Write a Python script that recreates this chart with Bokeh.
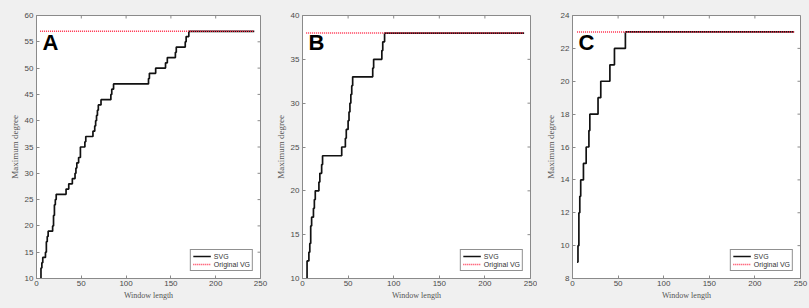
from bokeh.plotting import figure
from bokeh.layouts import row
from bokeh.models import Range1d, FixedTicker, Label
from bokeh.embed import file_html
from bokeh.resources import INLINE

# ---- data (step functions: value holds from x until next x) ----
A_x = [4, 5, 6, 7, 10, 11, 12, 13, 18, 19, 20, 21, 22, 33, 36, 40, 43, 44, 45, 47, 49, 54, 55,
       63, 65, 66, 67, 68, 69, 72, 83, 84, 86, 125, 126, 133, 144, 146, 155, 156, 166, 167, 170, 243]
A_y = [10, 12, 13, 14, 15, 17, 18, 19, 20, 22, 24, 25, 26, 27, 28, 29, 30, 31, 32, 33, 35, 36, 37,
       38, 39, 40, 41, 42, 43, 44, 45, 46, 47, 48, 49, 50, 51, 52, 53, 54, 55, 56, 57, 57]
A_orig = 57

B_x = [4, 5, 7, 8, 9, 10, 12, 13, 14, 18, 19, 21, 22, 43, 47, 48, 50, 51, 52, 53, 54, 55,
       77, 78, 87, 88, 90, 243]
B_y = [10, 12, 13, 14, 16, 17, 18, 19, 20, 21, 22, 23, 24, 25, 26, 27, 28, 29, 30, 31, 32, 33,
       34, 35, 36, 37, 38, 38]
B_orig = 38

C_x = [5, 6, 7, 8, 9, 12, 15, 18, 19, 28, 31, 41, 46, 58, 243]
C_y = [9, 10, 12, 13, 14, 15, 16, 17, 18, 19, 20, 21, 22, 23, 23]
C_orig = 23

x_ticks = [0, 50, 100, 150, 200, 250]
A_yticks = [10, 15, 20, 25, 30, 35, 40, 45, 50, 55, 60]
B_yticks = [10, 15, 20, 25, 30, 35, 40]
C_yticks = [8, 10, 12, 14, 16, 18, 20, 22, 24]

GRAY_BG = "#f0f0f0"
AX_COL = "#8a8a8a"
TXT_COL = "#4a4a4a"

FRAME_W = 228
FRAME_H = 263
TICK_PX = 3


def panel(xs, ys, orig, yticks, letter, width, left, right):
    x0, x1 = x_ticks[0], x_ticks[-1]
    y0, y1 = yticks[0], yticks[-1]
    p = figure(width=width, height=308, x_range=Range1d(x0, x1),
               y_range=Range1d(y0, y1),
               output_backend="svg", toolbar_location=None,
               min_border_left=left, min_border_right=right,
               min_border_top=15, min_border_bottom=30,
               background_fill_color="white", border_fill_color=GRAY_BG,
               outline_line_color=AX_COL, outline_line_width=1)
    p.grid.visible = False

    # mirrored inward ticks on top / right edges
    dx = TICK_PX * (x1 - x0) / FRAME_W
    dy = TICK_PX * (y1 - y0) / FRAME_H
    p.segment(x0=x_ticks, y0=[y1] * len(x_ticks), x1=x_ticks, y1=[y1 - dy] * len(x_ticks),
              line_color=AX_COL, line_width=1)
    p.segment(x0=[x1] * len(yticks), y0=yticks, x1=[x1 - dx] * len(yticks), y1=yticks,
              line_color=AX_COL, line_width=1)

    p.step(xs, ys, mode="after", line_color="#111111", line_width=1.7,
           legend_label="SVG")
    p.line([xs[0], xs[-1]], [orig, orig], line_color="#ff2d4a",
           line_width=1.4, line_dash="1 1", legend_label="Original VG")

    for ax, lab in ((p.xaxis[0], "Window length"), (p.yaxis[0], "Maximum degree")):
        ax.axis_label = lab
        ax.axis_label_text_font = "Liberation Serif"
        ax.axis_label_text_font_style = "normal"
        ax.axis_label_text_color = "#555555"
        ax.major_label_text_font = "Liberation Sans"
        ax.major_label_text_font_size = "8px"
        ax.major_label_text_color = TXT_COL
        ax.major_tick_in = TICK_PX
        ax.major_tick_out = 0
        ax.minor_tick_line_color = None
        ax.axis_line_color = AX_COL
        ax.major_tick_line_color = AX_COL
    p.xaxis[0].axis_label_text_font_size = "8px"
    p.yaxis[0].axis_label_text_font_size = "9px"
    p.xaxis[0].ticker = FixedTicker(ticks=x_ticks)
    p.yaxis[0].ticker = FixedTicker(ticks=yticks)
    p.xaxis[0].major_label_standoff = 2
    p.yaxis[0].major_label_standoff = 3
    p.xaxis[0].axis_label_standoff = 2
    p.yaxis[0].axis_label_standoff = 2

    # panel letter near the frame's top-left corner
    p.add_layout(Label(x=x0 + 6 * (x1 - x0) / FRAME_W,
                       y=y1 - 27 * (y1 - y0) / FRAME_H,
                       text=letter, text_font="Liberation Sans", text_font_style="bold",
                       text_font_size="22px", text_color="black",
                       text_baseline="alphabetic"))

    lg = p.legend[0]
    lg.location = "bottom_right"
    lg.margin = 7
    lg.padding = 2
    lg.spacing = 0
    lg.label_text_font = "Liberation Sans"
    lg.label_text_font_size = "7px"
    lg.label_text_color = "#333333"
    lg.label_height = 8
    lg.label_standoff = 3
    lg.glyph_width = 18
    lg.glyph_height = 8
    lg.border_line_color = "#222222"
    lg.border_line_width = 1
    lg.background_fill_color = "white"
    lg.background_fill_alpha = 1
    return p


pA = panel(A_x, A_y, A_orig, A_yticks, "A", 270, 36, 10)
pB = panel(B_x, B_y, B_orig, B_yticks, "B", 267, 32, 7)
pC = panel(C_x, C_y, C_orig, C_yticks, "C", 272, 35, 9)

layout = row(pA, pB, pC, spacing=0, background=GRAY_BG)
html = file_html(layout, INLINE)
html = html.replace("<body>", '<body style="background-color:%s">' % GRAY_BG, 1)
open("out.html", "w").write(html)
